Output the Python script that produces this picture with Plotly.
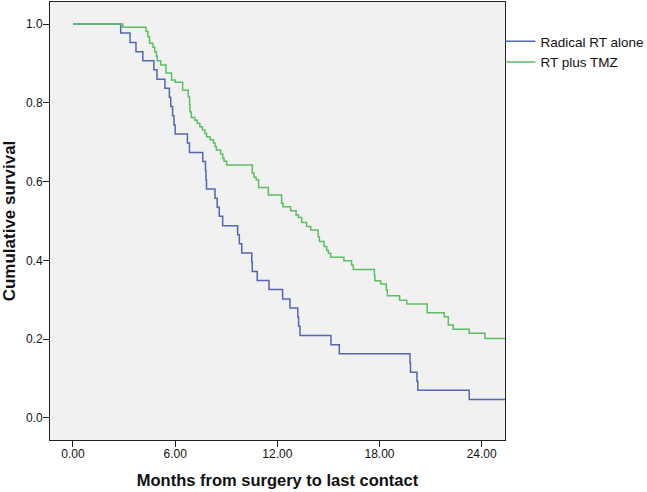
import plotly.graph_objects as go

# ---- data ----
blue_name = "Radical RT alone"
blue_t = [0, 2.8, 3.35, 3.7, 4.1, 4.75, 4.93, 5.4, 5.66, 5.74, 5.85, 5.93, 6.0,
          6.72, 6.84, 7.62, 7.78, 7.81, 7.84, 8.34, 8.47, 8.59, 8.79, 9.67, 9.77,
          9.91, 10.50, 10.53, 10.82, 11.51, 12.31, 12.74, 13.20, 13.25, 13.33,
          15.15, 15.64, 19.79, 19.82, 20.20, 20.25, 23.27, 26.0]
blue_s = [1.0, 0.977, 0.953, 0.930, 0.907, 0.884, 0.860, 0.837, 0.814, 0.791, 0.767,
          0.744, 0.721, 0.698, 0.674, 0.651, 0.628, 0.605, 0.581, 0.558, 0.535,
          0.512, 0.488, 0.465, 0.442, 0.419, 0.395, 0.372, 0.349, 0.326, 0.302,
          0.279, 0.256, 0.233, 0.209, 0.186, 0.163, 0.140, 0.116, 0.093, 0.070,
          0.047, 0.047]

green_name = "RT plus TMZ"
green_t = [0, 2.92, 4.29, 4.40, 4.50, 4.70, 4.80, 4.90, 4.95, 5.15, 5.46, 5.79, 6.0,
           6.44, 6.77, 6.85, 6.87, 6.95, 7.16, 7.30, 7.45, 7.60, 7.75, 7.85, 8.05,
           8.25, 8.34, 8.42, 8.67, 8.79, 8.87, 9.02, 10.53, 10.63, 10.76, 10.90,
           11.47, 12.25, 12.34, 12.78, 13.10, 13.24, 13.43, 13.72, 13.96, 14.40,
           14.47, 14.74, 14.90, 15.00, 15.13, 15.91, 16.36, 16.46, 17.70, 17.73,
           18.07, 18.40, 18.46, 19.18, 19.60, 20.80, 21.80, 22.04, 22.33, 23.27,
           24.19, 26.0]
green_s = [1.0, 0.992, 0.981, 0.968, 0.951, 0.941, 0.930, 0.918, 0.907, 0.896, 0.876,
           0.858, 0.852, 0.832, 0.815, 0.795, 0.777, 0.763, 0.756, 0.748, 0.739,
           0.731, 0.722, 0.714, 0.706, 0.698, 0.689, 0.680, 0.670, 0.659, 0.652,
           0.642, 0.621, 0.611, 0.605, 0.585, 0.566, 0.545, 0.536, 0.526, 0.515,
           0.509, 0.496, 0.486, 0.477, 0.460, 0.448, 0.435, 0.425, 0.418, 0.408,
           0.399, 0.388, 0.377, 0.362, 0.348, 0.340, 0.325, 0.310, 0.299, 0.289,
           0.267, 0.257, 0.236, 0.225, 0.215, 0.202, 0.202]

x_tickvals = [0, 6, 12, 18, 24]
x_ticktext = ["0.00", "6.00", "12.00", "18.00", "24.00"]
y_tickvals = [0.0, 0.2, 0.4, 0.6, 0.8, 1.0]

x_title = "Months from surgery to last contact"
y_title = "Cumulative survival"

FONT = "Liberation Sans, Arial, sans-serif"

fig = go.Figure()
fig.add_trace(go.Scatter(x=blue_t, y=blue_s, mode="lines", name=blue_name,
                         line=dict(color="#5466B2", width=1.5, shape="hv")))
fig.add_trace(go.Scatter(x=green_t, y=green_s, mode="lines", name=green_name,
                         line=dict(color="#5DBE62", width=1.5, shape="hv")))

fig.update_layout(
    width=647, height=492,
    margin=dict(l=50, r=142, t=2, b=52, autoexpand=False),
    paper_bgcolor="white",
    plot_bgcolor="#F1F1F1",
    font=dict(family=FONT, size=12, color="#111111"),
    showlegend=True,
    legend=dict(x=0.99, xanchor="left", y=0.945, yanchor="top",
                bgcolor="rgba(0,0,0,0)", borderwidth=0,
                font=dict(family=FONT, size=13.5, color="#111111"),
                itemwidth=30, tracegroupgap=0),
)
fig.update_xaxes(
    range=[-1.35, 25.37], tickvals=x_tickvals, ticktext=x_ticktext,
    showgrid=False, zeroline=False,
    showline=True, mirror=True, linecolor="#222222", linewidth=1,
    ticks="outside", ticklen=6, tickcolor="#222222",
    tickfont=dict(size=12), ticklabelstandoff=-3,
    title=dict(text="<b>" + x_title + "</b>", font=dict(size=16.5), standoff=14),
)
fig.update_yaxes(
    range=[-0.056, 1.056], tickvals=y_tickvals, tickformat=".1f",
    showgrid=False, zeroline=False,
    showline=True, mirror=True, linecolor="#222222", linewidth=1,
    ticks="outside", ticklen=6, tickcolor="#222222",
    tickfont=dict(size=12), ticklabelstandoff=-2,
    title=dict(text="<b>" + y_title + "</b>", font=dict(size=17), standoff=6),
)

fig.write_html("out.html", config={"displayModeBar": False},
               post_script="document.body.style.margin='0';")
